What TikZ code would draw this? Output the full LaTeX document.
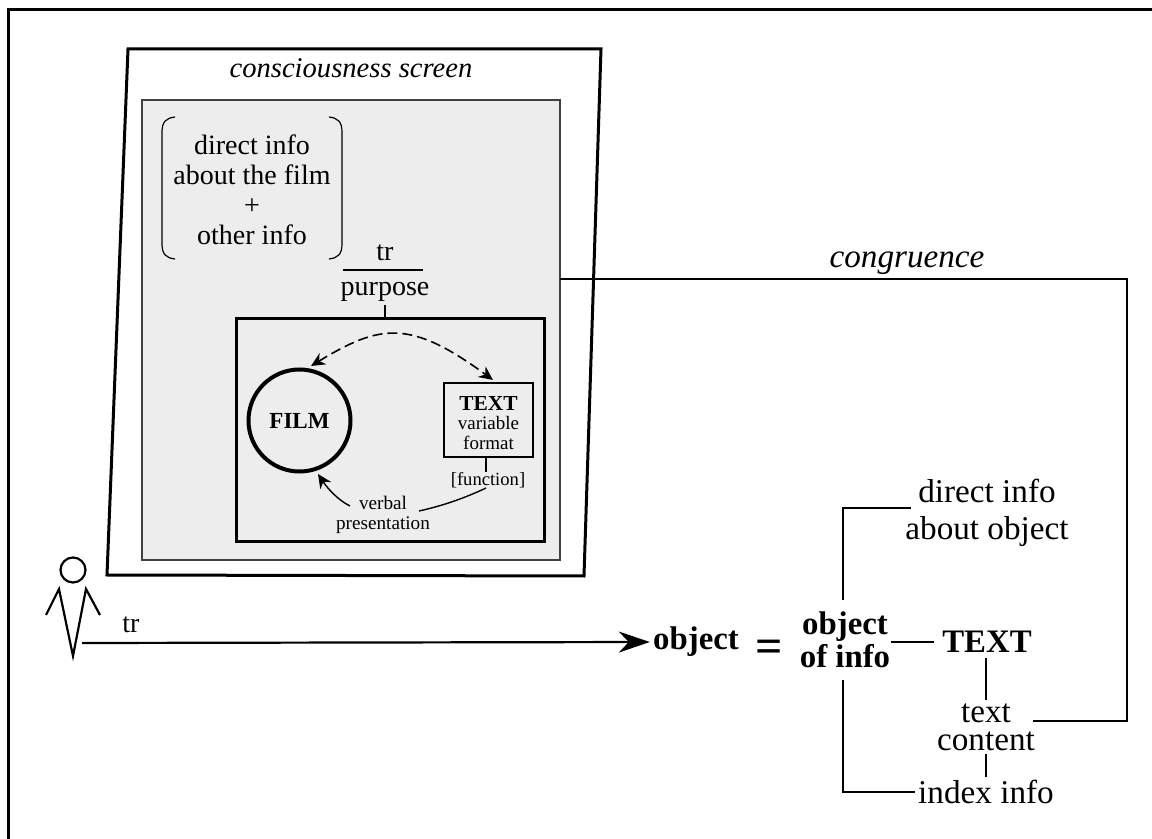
\documentclass[tikz,border=0pt]{standalone}
\usepackage{fontspec}
\setmainfont{Liberation Serif}
\usetikzlibrary{arrows.meta}
\newcommand{\fsz}[2]{\fontsize{#1}{#2}\selectfont}
\tikzset{
    lbl/.style = {inner sep=1.5pt, align=center},
    biglbl/.style = {lbl, font=\fsz{16.6pt}{18.5pt}},
    boldlbl/.style = {lbl, font=\fsz{16.4pt}{16.5pt}\bfseries},
    midlbl/.style = {lbl, font=\fsz{14pt}{14.6pt}},
    smalllbl/.style = {lbl, font=\fsz{9.6pt}{10pt}},
    bigarrow/.style = {-{Stealth[length=15.5pt,width=10.5pt,inset=5pt]}},
    smallarrow/.style = {-{Stealth[length=7pt,width=6.5pt]}}
}

\begin{document}
\begin{tikzpicture}[x=0.5pt, y=-0.5pt, line join=miter]
    \useasboundingbox (0,0) rectangle (1152,839);

    \draw[line width=1.5pt] (8,839) -- (8,10) -- (1152,10);

    \draw[line width=1.5pt] (128,49) -- (601,49) -- (584,576) -- (107,575) -- cycle;
    \node[draw=black!75, fill=black!7, line width=0.6pt, minimum width=209pt, minimum height=230pt, inner sep=0pt] (gray) at (351,330) {};
    \node[lbl, font=\fsz{14.3pt}{15pt}\itshape] (screen) at (351,68) {consciousness screen};

    \node[midlbl] (direct) at (252,190) {direct info\\[0.4pt]about the film\\[0.4pt]+\\[0.4pt]other info};
    \draw[line width=0.6pt] (175,117) .. controls (166,118) and (162,122) .. (162,132) -- (162,244) .. controls (162,254) and (166,258) .. (175,259);
    \draw[line width=0.6pt] (329,117) .. controls (338,118) and (342,122) .. (342,132) -- (342,244) .. controls (342,254) and (338,258) .. (329,259);

    \node[midlbl] (tr) at (385,253) {tr};
    \node[midlbl] (purpose) at (385,292) {purpose};
    \draw[line width=0.6pt] (343,270) -- (423,270);

    \node[draw, line width=1.5pt, minimum width=154pt, minimum height=111.5pt, inner sep=0pt] (frame) at (390,430.5) {};
    \draw[line width=0.6pt] (purpose.south) -- (purpose.south |- frame.north);

    \node[circle, draw, line width=2pt, minimum size=51pt, inner sep=0pt, font=\fsz{11.5pt}{12pt}\bfseries] (film) at (299.5,420.5) {FILM};
    \node[draw, line width=1pt, minimum width=44.5pt, minimum height=37pt, inner sep=0pt] (textbox) at (488.5,420) {};
    \node[lbl] (textlbl) at (488.5,423) {{\fsz{10.7pt}{10.5pt}\bfseries TEXT}\\[-2.1pt]{\fsz{9.5pt}{10pt}variable}\\[-2pt]{\fsz{9.5pt}{10pt}format}};
    \node[smalllbl, font=\fsz{9.3pt}{10pt}] (function) at (488,480) {[function]};
    \node[smalllbl] (verbal) at (383,515) {verbal\\presentation};
    \coordinate (vright) at (419,511);
    \coordinate (vleft) at (350,506);
    \coordinate (fend) at (318,474);
    \coordinate (fstart) at (311,366);
    \coordinate (tend) at (493,380);

    \draw[line width=0.8pt, dashed, dash pattern=on 5pt off 2.5pt, {Stealth[length=7pt,width=6.5pt]}-{Stealth[length=7pt,width=6.5pt]}] (fstart) .. controls (380,324) and (410,319) .. (tend);
    \draw[line width=0.6pt] (textbox.south -| 486,0) -- (486,472);
    \draw[line width=0.7pt] (486,488) .. controls (465,498) and (442,506) .. (vright);
    \draw[line width=0.7pt, smallarrow] (vleft) .. controls (338,500) and (328,489) .. (fend);

    \node[circle, draw, line width=1.1pt, minimum size=12.5pt, inner sep=0pt] (head) at (73,570) {};
    \draw[line width=1.1pt] (46,615) -- (59,589) -- (73,656) -- (86,589) -- (100,615);
    \coordinate (start) at (82,643);
    \node[midlbl] (trobj) at (131,625) {tr};

    \node[boldlbl] (object) at (696,642) {object};
    \node[boldlbl, font=\fsz{24pt}{24pt}\bfseries] (equal) at (769,651) {=};
    \node[boldlbl, inner xsep=0pt, inner ysep=6pt] (objinfo) at (845,640) {object\\of info};
    \node[boldlbl, inner xsep=4pt, inner ysep=2.5pt] (text) at (987,642) {TEXT};
    \node[biglbl] (about) at (987,513) {direct info\\about object};
    \node[biglbl, font=\fsz{16.6pt}{14pt}] (content) at (986,727) {text\\content};
    \node[biglbl] (index) at (986,792) {index info};
    \node[lbl, font=\fsz{16.6pt}{17pt}\itshape] (congr) at (907,263) {congruence};

    \draw[line width=1.1pt, bigarrow] (start) -- (object.west);
    \draw[line width=1pt] (objinfo.east |- text) -- (text.west);
    \draw[line width=1pt] (objinfo.north -| 843,0) |- (911,508);
    \draw[line width=1pt] (objinfo.south -| 843,0) |- (index.west);
    \draw[line width=0.7pt] (text.south -| 986,0) -- (content.north);
    \draw[line width=0.7pt] (content.south) -- (index.north);

    \coordinate (cstart) at (1033,721);
    \coordinate (cend) at (560,279);
    \draw[line width=1pt] (cstart) -- (1127,721) -- (1127,279) -- (cend);
\end{tikzpicture}
\end{document}
